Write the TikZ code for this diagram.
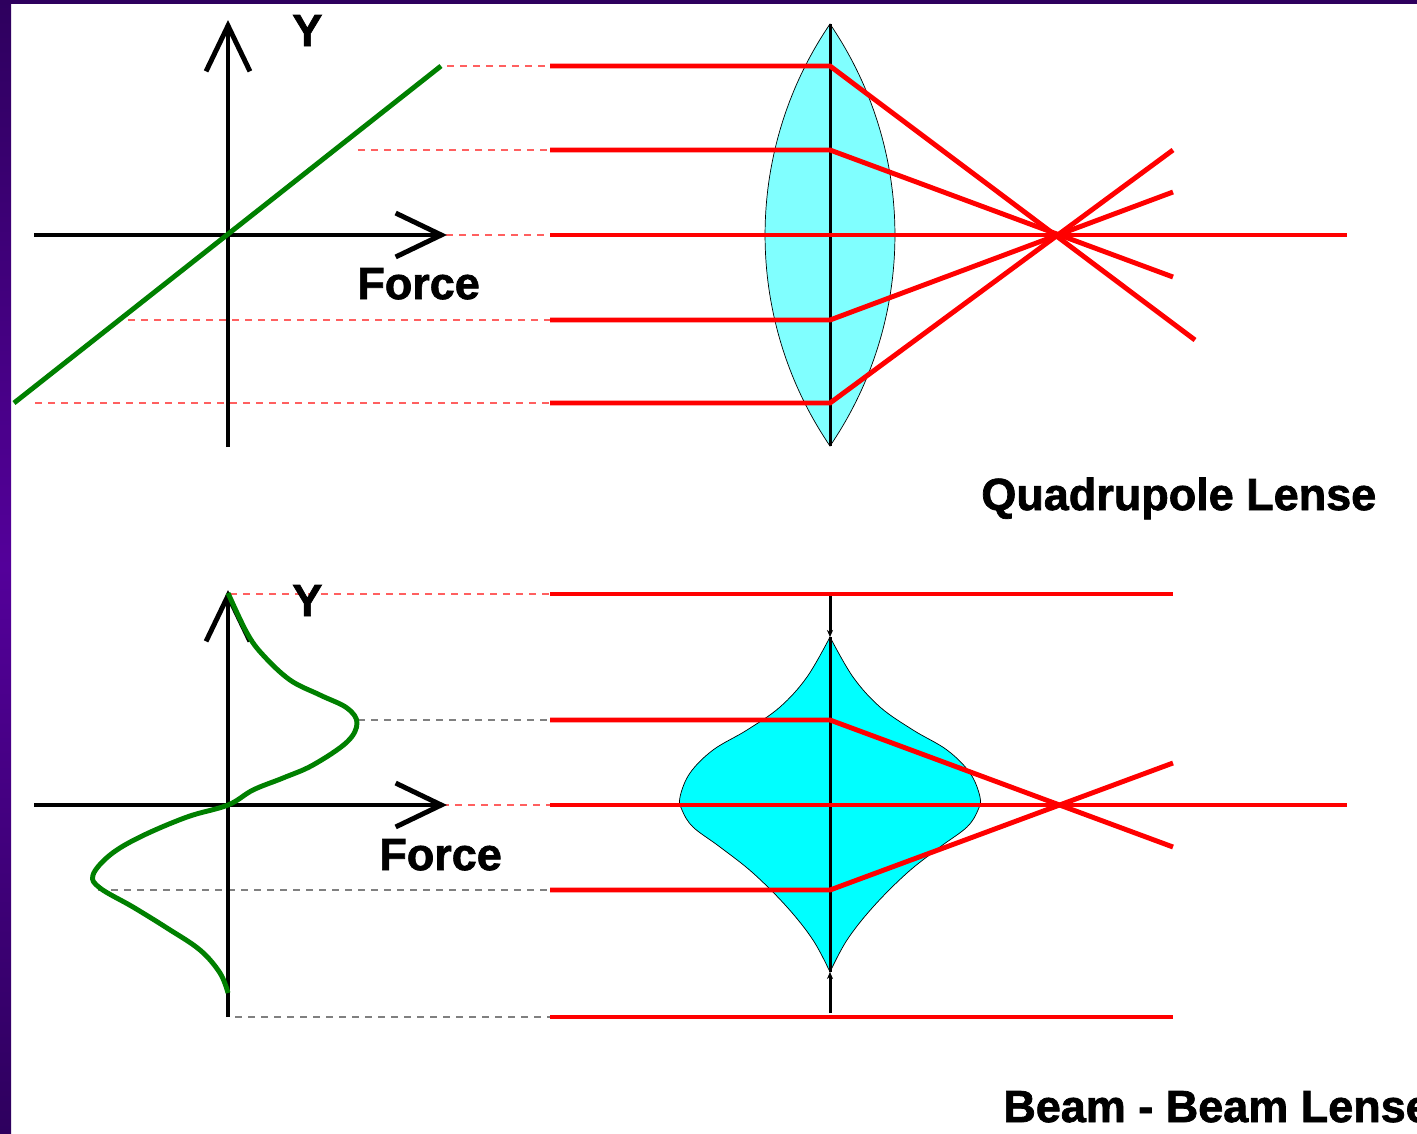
\documentclass[tikz,border=0pt]{standalone}
\usepackage{fontspec}
\setmainfont{Liberation Sans}
\newfontfamily\lblfont{Liberation Sans}[BoldFeatures={FakeBold=1.6}]
\usetikzlibrary{arrows.meta}

\definecolor{framedark}{HTML}{2E005E}
\definecolor{framemid}{HTML}{54009A}
\definecolor{lenslight}{HTML}{80FFFF}
\definecolor{lensbeam}{HTML}{00FFFF}
\definecolor{forcegreen}{HTML}{008000}
\definecolor{guidered}{HTML}{FF6060}
\definecolor{guidegray}{HTML}{808080}

\tikzset{
  axisline/.style={line width=2.8pt, -{Straight Barb[length=26pt, width=25pt, line width=2.8pt]}},
  forceline/.style={line width=2.8pt, forcegreen, line join=round},
  ray/.style={line width=2.8pt, red, line join=miter},
  guide/.style={line width=0.6pt, dash pattern=on 4pt off 3.4pt},
  lensline/.style={line width=0.4pt, black},
  lensaxis/.style={line width=1.7pt, black},
  lbl/.style={inner sep=0pt, anchor=base west, font=\lblfont\fontsize{25.6}{30}\selectfont\bfseries}
}

\begin{document}
\begin{tikzpicture}[x=0.02cm, y=-0.02cm]
        \useasboundingbox (0,0) rectangle (1417,1133);

        % frame
        \shade[top color=framedark, bottom color=framedark, middle color=framemid] (0,0) rectangle (11,1133);
        \fill[framedark] (0,0) rectangle (1417,4);

        % ===== Quadrupole lens =====
        % guide lines
        \foreach \xs/\y in {447/66, 358/150, 420/235, 128/320, 35/403} {
            \draw[guide, guidered] (\xs,\y) -- (550,\y);
        }

        % axes
        \draw[axisline] (228,447) -- (228,20);
        \draw[axisline] (34,235) -- (447,235);
        \node[lbl] (ytop) at (292,46) {Y};
        \node[lbl] (forcetop) at (357,299) {Force};

        % linear force
        \draw[forceline] (14,403) -- (441,66);

        % lens
        \draw[lensline, fill=lenslight] (830,24) .. controls (916.6,151.2) and (916.6,318.8) .. (830,446)
              .. controls (743.4,318.8) and (743.4,151.2) .. (830,24) -- cycle;
        \draw[lensaxis] (830,24) -- (830,446);

        % rays
        \coordinate (qfocus) at (1058,235);
        \foreach \y/\ex/\ey in {66/1195/340, 150/1173/277, 320/1173/192, 403/1173/150} {
            \draw[ray] (550,\y) -- (830,\y) -- (\ex,\ey);
        }
        \draw[ray] (550,235) -- (qfocus) -- (1347,235);

        \node[lbl] (quadlbl) at (981,510) {Quadrupole Lense};

        % ===== Beam-beam lens =====
        % guide lines
        \foreach \xs/\y in {230/594, 403/805} {
            \draw[guide, guidered] (\xs,\y) -- (550,\y);
        }
        \foreach \xs/\y in {358/720, 98/890, 235/1017} {
            \draw[guide, guidegray] (\xs,\y) -- (550,\y);
        }

        % axes
        \draw[axisline] (228,1017) -- (228,590);
        \draw[axisline] (34,805) -- (447,805);
        \node[lbl] (ybot) at (292,616) {Y};
        \node[lbl] (forcebot) at (379,870) {Force};

        % beam-beam force
        \draw[forceline] plot[smooth, tension=0.6] coordinates {
            (228,593) (247,633) (263,655) (290,680) (320,695) (347,708) (357,723)
            (347,742) (313,765) (283,778) (253,790) (228,805) (187,817) (140,837)
            (110,855) (93,875) (100,888) (133,907) (167,928) (200,950) (220,973) (228,993)};

        % lens
        \draw[lensline, fill=lensbeam]
            plot[smooth, tension=0.6] coordinates {
              (830,637) (853,677) (880,707) (913,730) (947,750) (970,773) (980,797)
              (978,810) (967,827) (940,847) (907,873) (873,907) (847,940) (830,972)}
            -- plot[smooth, tension=0.6] coordinates {
              (830,972) (813,940) (787,907) (753,873) (720,847) (693,827) (682,810)
              (680,797) (690,773) (713,750) (747,730) (780,707) (807,677) (830,637)} -- cycle;
        \draw[lensaxis, -{Stealth[length=4pt, width=3.5pt]}] (830,594) -- (830,637);
        \draw[lensaxis] (830,637) -- (830,972);
        \draw[lensaxis, -{Stealth[length=4pt, width=3.5pt]}] (830,1013) -- (830,972);

        % rays
        \coordinate (bfocus) at (1060,805);
        \draw[ray] (550,594) -- (1173,594);
        \draw[ray] (550,1017) -- (1173,1017);
        \draw[ray] (550,720) -- (830,720) -- (1173,847);
        \draw[ray] (550,890) -- (830,890) -- (1173,763);
        \draw[ray] (550,805) -- (bfocus) -- (1347,805);

        \node[lbl] (beamlbl) at (1003,1122) {Beam - Beam Lense};

    \end{tikzpicture}
\end{document}
